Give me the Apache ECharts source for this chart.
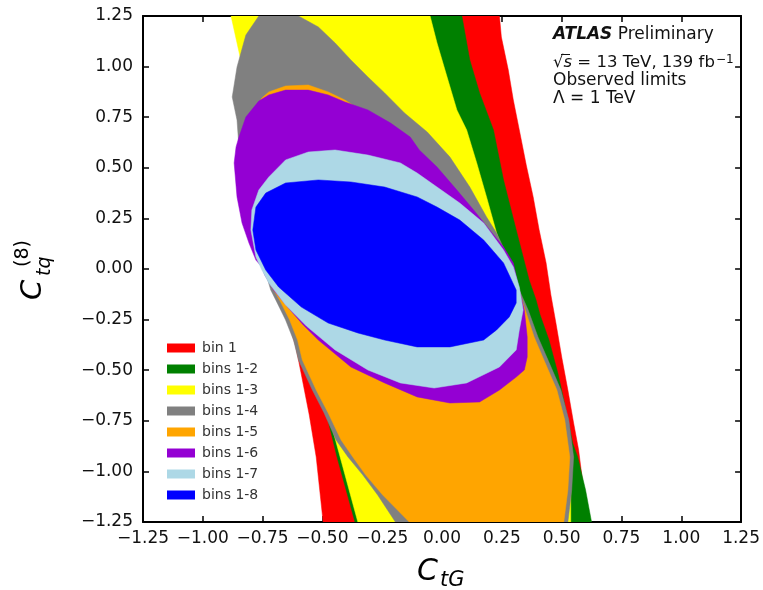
<!DOCTYPE html>
<html><head><meta charset="utf-8">
<script src="https://cdn.jsdelivr.net/npm/echarts@6/dist/echarts.min.js"></script>
<style>html,body{margin:0;padding:0;background:#fff}#c{width:763px;height:590px}</style>
</head><body><div id="c"></div>
<script>
// Tick values / labels
const xTicks = [-1.25,-1.00,-0.75,-0.50,-0.25,0.00,0.25,0.50,0.75,1.00,1.25];
const yTicks = [-1.25,-1.00,-0.75,-0.50,-0.25,0.00,0.25,0.50,0.75,1.00,1.25];
const xTickLabels = ['−1.25','−1.00','−0.75','−0.50','−0.25','0.00','0.25','0.50','0.75','1.00','1.25'];
const yTickLabels = ['−1.25','−1.00','−0.75','−0.50','−0.25','0.00','0.25','0.50','0.75','1.00','1.25'];

// Observed allowed regions [CtG, Ctq8] (contour outlines)
const bin1 = [[-0.807,1.25],[0.240,1.25],[0.248,1.146],[0.277,0.983],[0.298,0.835],[0.323,0.687],[0.352,0.514],[0.381,0.356],[0.406,0.193],[0.435,0.030],[0.455,-0.128],[0.476,-0.267],[0.501,-0.440],[0.526,-0.598],[0.550,-0.761],[0.571,-0.894],[0.592,-1.092],[0.600,-1.25],[-0.497,-1.25],[-0.526,-0.929],[-0.555,-0.721],[-0.600,-0.450],[-0.613,-0.376],[-0.658,-0.203],[-0.704,0.044],[-0.757,0.341],[-0.786,0.835]];
const bins12 = [[-0.849,1.25],[0.083,1.25],[0.116,1.033],[0.157,0.870],[0.215,0.687],[0.257,0.440],[0.310,0.193],[0.364,-0.054],[0.393,-0.153],[0.410,-0.227],[0.447,-0.351],[0.484,-0.514],[0.509,-0.647],[0.546,-0.860],[0.567,-0.929],[0.600,-1.092],[0.625,-1.25],[-0.364,-1.25],[-0.439,-0.929],[-0.484,-0.711],[-0.526,-0.598],[-0.575,-0.450],[-0.617,-0.301],[-0.675,-0.104],[-0.733,0.094],[-0.782,0.341],[-0.807,0.588],[-0.828,0.835],[-0.828,1.047]];
const bins13 = [[-0.882,1.25],[-0.050,1.25],[-0.021,1.117],[0.021,0.949],[0.062,0.786],[0.103,0.687],[0.145,0.524],[0.186,0.356],[0.228,0.178],[0.273,0.035],[0.315,-0.114],[0.393,-0.336],[0.435,-0.450],[0.484,-0.598],[0.517,-0.746],[0.538,-0.929],[0.538,-1.092],[0.538,-1.25],[-0.352,-1.25],[-0.426,-0.929],[-0.476,-0.711],[-0.534,-0.598],[-0.588,-0.450],[-0.629,-0.301],[-0.691,-0.104],[-0.749,0.094],[-0.795,0.341],[-0.820,0.588],[-0.840,0.835],[-0.844,1.047]];
const bins14 = [[-0.766,1.25],[-0.600,1.25],[-0.517,1.196],[-0.447,1.117],[-0.381,1.033],[-0.310,0.949],[-0.240,0.870],[-0.157,0.771],[-0.062,0.677],[0.033,0.553],[0.116,0.405],[0.186,0.257],[0.228,0.178],[0.281,0.044],[0.323,-0.104],[0.360,-0.203],[0.401,-0.336],[0.443,-0.450],[0.497,-0.598],[0.530,-0.746],[0.550,-0.929],[0.542,-1.092],[0.526,-1.25],[-0.195,-1.25],[-0.269,-1.117],[-0.331,-1.018],[-0.393,-0.929],[-0.443,-0.845],[-0.493,-0.711],[-0.542,-0.598],[-0.600,-0.450],[-0.621,-0.351],[-0.654,-0.252],[-0.695,-0.153],[-0.716,-0.104],[-0.741,-0.005],[-0.782,0.109],[-0.824,0.277],[-0.836,0.440],[-0.849,0.603],[-0.857,0.736],[-0.877,0.850],[-0.857,0.998],[-0.820,1.156]];
const bins15 = [[-0.753,0.845],[-0.724,0.875],[-0.654,0.904],[-0.559,0.909],[-0.476,0.875],[-0.406,0.835],[-0.310,0.761],[-0.186,0.662],[-0.083,0.539],[0.041,0.380],[0.128,0.252],[0.186,0.168],[0.248,0.069],[0.290,-0.015],[0.319,-0.104],[0.348,-0.203],[0.385,-0.336],[0.426,-0.450],[0.480,-0.598],[0.513,-0.746],[0.534,-0.929],[0.526,-1.092],[0.509,-1.25],[-0.137,-1.25],[-0.248,-1.117],[-0.319,-1.018],[-0.373,-0.929],[-0.422,-0.845],[-0.476,-0.711],[-0.526,-0.598],[-0.584,-0.450],[-0.604,-0.351],[-0.637,-0.252],[-0.679,-0.153],[-0.708,-0.094],[-0.741,-0.015],[-0.782,0.143],[-0.807,0.341],[-0.815,0.539],[-0.807,0.687],[-0.786,0.786]];
const bins16 = [[-0.766,0.830],[-0.724,0.860],[-0.654,0.884],[-0.559,0.884],[-0.476,0.860],[-0.406,0.825],[-0.310,0.786],[-0.215,0.721],[-0.133,0.652],[-0.095,0.588],[-0.021,0.504],[0.062,0.390],[0.132,0.292],[0.199,0.193],[0.257,0.109],[0.298,0.030],[0.323,-0.104],[0.344,-0.203],[0.356,-0.336],[0.356,-0.435],[0.344,-0.499],[0.310,-0.534],[0.240,-0.598],[0.157,-0.657],[0.033,-0.662],[-0.104,-0.632],[-0.240,-0.563],[-0.381,-0.484],[-0.517,-0.351],[-0.580,-0.277],[-0.642,-0.193],[-0.704,-0.104],[-0.741,-0.030],[-0.753,0.010],[-0.778,0.044],[-0.807,0.128],[-0.836,0.227],[-0.857,0.356],[-0.869,0.524],[-0.861,0.603],[-0.849,0.652],[-0.820,0.751]];
const bins17 = [[-0.724,0.455],[-0.654,0.539],[-0.559,0.578],[-0.447,0.588],[-0.310,0.563],[-0.174,0.524],[-0.104,0.474],[-0.021,0.405],[0.074,0.326],[0.174,0.227],[0.257,0.094],[0.298,0.010],[0.323,-0.089],[0.339,-0.203],[0.323,-0.301],[0.310,-0.400],[0.240,-0.484],[0.103,-0.563],[-0.033,-0.588],[-0.174,-0.563],[-0.310,-0.499],[-0.447,-0.400],[-0.497,-0.351],[-0.567,-0.282],[-0.654,-0.178],[-0.724,-0.069],[-0.753,-0.005],[-0.778,0.059],[-0.799,0.193],[-0.795,0.292],[-0.766,0.390]];
const bins18 = [[-0.737,0.375],[-0.654,0.425],[-0.517,0.440],[-0.381,0.430],[-0.240,0.405],[-0.104,0.356],[-0.021,0.306],[0.074,0.242],[0.174,0.143],[0.257,0.030],[0.310,-0.104],[0.310,-0.168],[0.281,-0.237],[0.228,-0.301],[0.174,-0.351],[0.033,-0.385],[-0.104,-0.385],[-0.240,-0.351],[-0.352,-0.316],[-0.476,-0.267],[-0.588,-0.188],[-0.683,-0.089],[-0.737,-0.005],[-0.778,0.094],[-0.791,0.193],[-0.778,0.306]];

const regionNames = ['bin 1','bins 1-2','bins 1-3','bins 1-4','bins 1-5','bins 1-6','bins 1-7','bins 1-8'];
const regionData = [bin1, bins12, bins13, bins14, bins15, bins16, bins17, bins18];
const regionColors = ['#ff0000','#008000','#ffff00','#808080','#ffa500','#9400d3','#add8e6','#0000ff'];

const FONT = 'DejaVu Sans';
const chart = echarts.init(document.getElementById('c'), null, {renderer:'canvas'});

function fmt(labels, ticks){
  return function(v){
    for (let i=0;i<ticks.length;i++) if (Math.abs(ticks[i]-v)<1e-6) return labels[i];
    return '';
  };
}

const axisCommon = {
  type:'value', min:-1.25, max:1.25, interval:0.25,
  splitLine:{show:false},
  axisLine:{show:true, onZero:false, lineStyle:{color:'#000', width:2}},
  axisTick:{show:true, inside:true, length:6, lineStyle:{color:'#000', width:1.5}}
};

const series = regionNames.map((name, i) => ({
  type:'custom', name: name, coordinateSystem:'cartesian2d', xAxisIndex:0, yAxisIndex:0,
  clip:true, silent:true, z: 2,
  itemStyle:{color: regionColors[i]},
  data:[regionData[i][0]],
  renderItem: function(params, api){
    const pts = regionData[i].map(p => api.coord(p));
    return {type:'polygon', shape:{points: pts}, style:{fill: regionColors[i], stroke: regionColors[i], lineWidth:0.5}};
  }
}));

chart.setOption({
  animation:false,
  backgroundColor:'#fff',
  grid:{left:143, right:16, top:16, bottom:68, containLabel:false},
  xAxis:[
    Object.assign({}, axisCommon, {position:'bottom',
      axisLabel:{show:true, margin:8, fontSize:17, fontFamily:FONT, color:'#111', formatter: fmt(xTickLabels, xTicks), hideOverlap:false}}),
    Object.assign({}, axisCommon, {position:'top', axisLabel:{show:false}})
  ],
  yAxis:[
    Object.assign({}, axisCommon, {position:'left',
      axisLabel:{show:true, margin:10, fontSize:17, fontFamily:FONT, color:'#111', formatter: fmt(yTickLabels, yTicks)}}),
    Object.assign({}, axisCommon, {position:'right', axisLabel:{show:false}})
  ],
  legend:{
    orient:'vertical', left:162, top:336,
    itemWidth:28, itemHeight:9, itemGap:7,
    data: regionNames.map(n => ({name:n, icon:'rect'})),
    textStyle:{fontSize:14, fontFamily:FONT, color:'#333', lineHeight:14, padding:[0,0,0,2]},
    selectedMode:false
  },
  graphic:[
    // top-right annotation
    {type:'text', left:553, top:26, z:10, style:{text:'{b|ATLAS} Preliminary', fontSize:17, fontFamily:FONT, fill:'#111',
      rich:{b:{fontSize:17, fontFamily:FONT, fontWeight:'bold', fontStyle:'italic', fill:'#111'}}}},
    {type:'text', left:553, top:54, z:10, style:{text:'√{i|s} = 13 TeV, 139 fb{sup|−1}', fontSize:16.5, fontFamily:FONT, fill:'#111',
      rich:{i:{fontSize:16.5, fontFamily:FONT, fontStyle:'italic', fill:'#111'}, sup:{fontSize:12, fontFamily:FONT, fill:'#111', verticalAlign:'top', padding:[0,0,6,1]}}}},
    {type:'line', z:10, shape:{x1:561, y1:54.5, x2:570, y2:54.5}, style:{stroke:'#111', lineWidth:1}},
    {type:'text', left:553, top:72, z:10, style:{text:'Observed limits', fontSize:17, fontFamily:FONT, fill:'#111'}},
    {type:'text', left:553, top:90, z:10, style:{text:'Λ = 1 TeV', fontSize:17, fontFamily:FONT, fill:'#111'}},
    // x axis title
    {type:'text', x:417, y:572, z:10, style:{text:'C', fontSize:30, fontFamily:FONT, fontStyle:'italic', fill:'#000', verticalAlign:'middle', align:'left'}},
    {type:'text', x:440, y:581, z:10, style:{text:'tG', fontSize:21, fontFamily:FONT, fontStyle:'italic', fill:'#000', verticalAlign:'middle', align:'left'}},
    // y axis title (rotated)
    {type:'group', x:42, y:300, rotation:Math.PI/2, z:10, children:[
      {type:'text', x:0, y:-9, style:{text:'C', fontSize:29, fontFamily:FONT, fontStyle:'italic', fill:'#000', verticalAlign:'middle', align:'left'}},
      {type:'text', x:24, y:3, style:{text:'tq', fontSize:19, fontFamily:FONT, fontStyle:'italic', fill:'#000', verticalAlign:'middle', align:'left'}},
      {type:'text', x:33, y:-19, style:{text:'(8)', fontSize:19, fontFamily:FONT, fill:'#000', verticalAlign:'middle', align:'left'}}
    ]}
  ],
  series: series
});
</script>
</body></html>
